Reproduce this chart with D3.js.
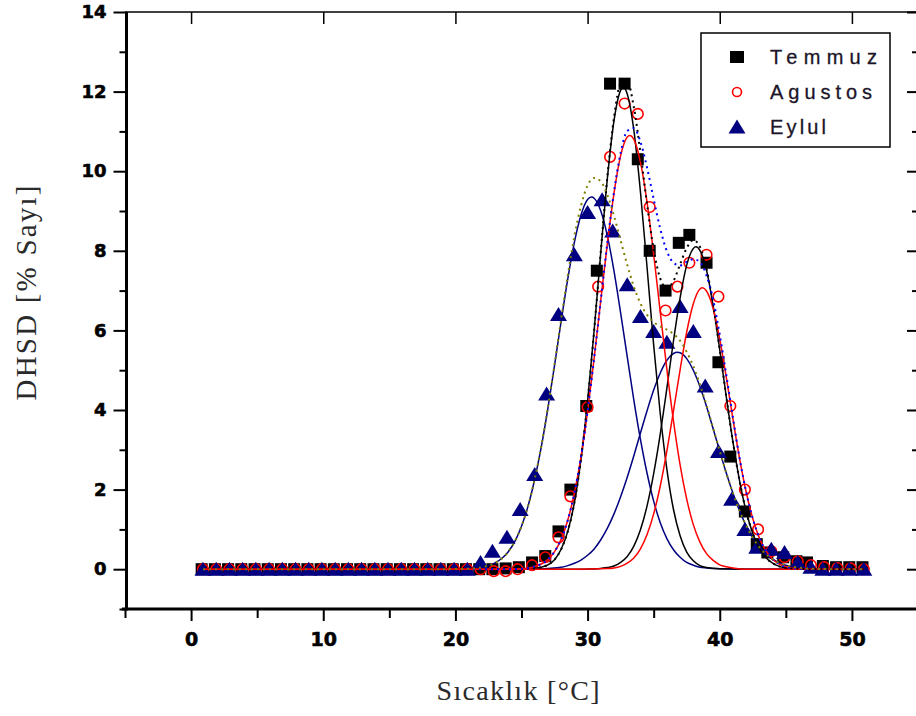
<!DOCTYPE html>
<html><head><meta charset="utf-8">
<script src="https://cdn.jsdelivr.net/npm/d3@7"></script>
<style>body{margin:0;background:#fff}svg{display:block}</style>
</head><body>
<svg id="chart" width="916" height="716"></svg>
<script>
// ---------------- data ----------------
const seriesNames = ["Temmuz", "Agustos", "Eylul"];
const xTicks = [0, 10, 20, 30, 40, 50];
const yTicks = [0, 2, 4, 6, 8, 10, 12, 14];

const temmuzX = [0.8,1.8,2.8,3.8,4.8,5.8,6.8,7.8,8.8,9.8,10.8,11.8,12.8,13.8,14.8,15.8,16.8,17.8,18.8,19.8,20.8,21.8,22.8,23.8,24.8,
  25.8,26.8,27.8,28.7,29.9,30.7,31.7,32.8,33.8,34.7,35.9,36.9,37.7,39.0,39.9,40.8,41.9,42.8,43.6,44.8,45.8,46.6,47.8,48.8,49.8,50.8];
const temmuzY = [0,0,0,0,0,0,0,0,0,0,0,0,0,0,0,0,0,0,0,0,0,0,0,0.02,0.05,
  0.17,0.33,0.95,2.0,4.1,7.5,12.2,12.2,10.3,8.0,7.0,8.2,8.4,7.7,5.2,2.83,1.45,0.63,0.42,0.3,0.2,0.17,0.08,0.05,0.05,0.05];

const agustosX = [0.9,1.9,2.9,3.9,4.9,5.9,6.9,7.9,8.9,9.9,10.9,11.9,12.9,13.9,14.9,15.9,16.9,17.9,18.9,19.9,20.9,21.9,
  22.9,23.8,24.7,25.8,26.8,27.8,28.7,30.0,30.8,31.7,32.8,33.8,34.7,35.9,36.8,37.7,39.0,39.9,40.8,41.9,42.9,43.9,44.9,45.9,46.9,47.9,48.9,49.9,50.9];
const agustosY = [0,0,0,0,0,0,0,0,0,0,0,0,0,0,0,0,0,0,0,0,0,0,
  -0.05,-0.05,0.0,0.1,0.3,0.8,1.83,4.07,7.1,10.36,11.7,11.44,9.1,6.5,7.1,7.7,7.9,6.85,4.1,2.0,1.0,0.45,0.3,0.2,0.1,0.05,0.03,0.02,0.0];

const eylulX = [0.9,1.9,2.9,3.9,4.9,5.9,6.9,7.9,8.9,9.9,10.9,11.9,12.9,13.9,14.9,15.9,16.9,17.9,18.9,19.9,20.9,
  21.9,22.8,23.9,24.9,26.0,26.9,27.8,29.0,30.0,31.1,31.9,33.0,34.0,35.0,36.0,37.0,38.0,38.9,39.9,40.9,41.9,42.8,43.9,44.9,45.9,46.9,47.8,48.8,49.8,50.9];
const eylulY = [0,0,0,0,0,0,0,0,0,0,0,0,0,0,0,0,0,0,0,0,0,
  0.17,0.45,0.8,1.5,2.38,4.4,6.4,7.9,8.96,9.28,8.5,7.15,6.35,5.97,5.7,6.6,5.97,4.6,2.96,1.76,1.0,0.55,0.5,0.42,0.17,0.05,0,0,0,0];

// fitted peak curves
const temmuzPeak1 = [[0.9,0],[24,0],[26,0.02],[26.5,0.05],[27,0.11],[27.5,0.24],[28,0.5],[28.5,0.95],[29,1.67],[29.5,2.76],[30,4.22],[30.5,6.01],[31,7.97],[31.5,9.83],[32,11.27],[32.5,12.03],[32.7,12.1],[33,11.94],[33.5,11.03],[34,9.48],[34.5,7.58],[35,5.63],[35.5,3.9],[36,2.51],[36.5,1.5],[37,0.84],[37.5,0.43],[38,0.21],[38.5,0.09],[39,0.04],[40,0.01],[42,0],[50.9,0]];
const temmuzPeak2 = [[0.9,0],[29,0],[30,0.003],[31,0.02],[31.5,0.04],[32,0.08],[32.5,0.17],[33,0.32],[33.5,0.58],[34,0.99],[34.5,1.59],[35,2.4],[35.5,3.4],[36,4.55],[36.5,5.74],[37,6.82],[37.5,7.64],[38,8.06],[38.2,8.1],[38.5,8.01],[39,7.51],[39.5,6.62],[40,5.51],[40.5,4.32],[41,3.19],[41.5,2.22],[42,1.45],[42.5,0.9],[43,0.52],[43.5,0.29],[44,0.15],[44.5,0.07],[45,0.03],[46,0.01],[47,0],[50.9,0]];
const temmuzSum = [[0.9,0],[24,0],[26,0.02],[26.5,0.05],[27,0.11],[27.5,0.24],[28,0.5],[28.5,0.95],[29,1.67],[29.5,2.76],[30,4.22],[30.5,6.01],[31,7.99],[31.5,9.87],[32,11.35],[32.5,12.2],[33,12.26],[33.5,11.61],[34,10.47],[34.5,9.17],[35,8.03],[35.5,7.3],[36,7.06],[36.5,7.24],[37,7.66],[37.5,8.07],[38,8.27],[38.5,8.1],[39,7.55],[39.5,6.64],[40,5.52],[40.5,4.32],[41,3.19],[41.5,2.22],[42,1.45],[42.5,0.9],[43,0.52],[43.5,0.29],[44,0.15],[44.5,0.07],[45,0.03],[46,0.01],[47,0],[50.9,0]];

const agustosPeak1 = [[0.9,0],[22,0],[25,0.01],[25.5,0.03],[26,0.07],[26.5,0.13],[27,0.24],[27.5,0.44],[28,0.75],[28.5,1.23],[29,1.91],[29.5,2.82],[30,3.97],[30.5,5.31],[31,6.76],[31.5,8.19],[32,9.45],[32.5,10.39],[33,10.86],[33.2,10.9],[33.5,10.8],[34,10.23],[34.5,9.22],[35,7.91],[35.5,6.46],[36,5.02],[36.5,3.72],[37,2.62],[37.5,1.76],[38,1.12],[38.5,0.68],[39,0.39],[39.5,0.22],[40,0.11],[40.5,0.06],[41,0.03],[42,0],[50.9,0]];
const agustosPeak2 = [[0.9,0],[29,0],[31.5,0.015],[32,0.03],[32.5,0.07],[33,0.15],[33.5,0.28],[34,0.51],[34.5,0.87],[35,1.39],[35.5,2.09],[36,2.97],[36.5,3.98],[37,5.01],[37.5,5.96],[38,6.67],[38.5,7.04],[38.7,7.07],[39,6.99],[39.5,6.55],[40,5.78],[40.5,4.81],[41,3.77],[41.5,2.78],[42,1.94],[42.5,1.27],[43,0.78],[43.5,0.46],[44,0.25],[44.5,0.13],[45,0.06],[45.5,0.03],[46,0.01],[47,0],[50.9,0]];
const agustosSum = [[0.9,0],[24,0],[25,0.01],[26,0.07],[27,0.24],[27.5,0.44],[28,0.75],[28.5,1.23],[29,1.91],[29.5,2.82],[30,3.97],[30.5,5.31],[31,6.76],[31.5,8.21],[32,9.48],[32.5,10.46],[33,11.01],[33.5,11.08],[34,10.74],[34.5,10.09],[35,9.3],[35.5,8.55],[36,7.99],[36.5,7.7],[37,7.63],[37.5,7.72],[38,7.79],[38.5,7.72],[39,7.38],[39.5,6.77],[40,5.89],[40.5,4.87],[41,3.8],[41.5,2.79],[42,1.94],[42.5,1.27],[43,0.78],[43.5,0.46],[44,0.25],[44.5,0.13],[45,0.06],[46,0.01],[47,0],[50.9,0]];

const eylulPeak1 = [[0.9,0],[18,0],[20,0.003],[21,0.01],[22,0.05],[22.5,0.09],[23,0.16],[23.5,0.27],[24,0.44],[24.5,0.7],[25,1.08],[25.5,1.59],[26,2.26],[26.5,3.08],[27,4.05],[27.5,5.12],[28,6.23],[28.5,7.29],[29,8.21],[29.5,8.9],[30,9.29],[30.3,9.35],[30.5,9.32],[31,9.0],[31.5,8.37],[32,7.49],[32.5,6.44],[33,5.34],[33.5,4.25],[34,3.26],[34.5,2.41],[35,1.71],[35.5,1.17],[36,0.77],[36.5,0.49],[37,0.3],[37.5,0.17],[38,0.1],[38.5,0.05],[39,0.03],[40,0.01],[42,0],[50.9,0]];
const eylulPeak2 = [[0.9,0],[22,0],[26,0.005],[27,0.02],[28,0.05],[28.5,0.09],[29,0.15],[29.5,0.23],[30,0.35],[30.5,0.51],[31,0.74],[31.5,1.03],[32,1.39],[32.5,1.82],[33,2.31],[33.5,2.85],[34,3.42],[34.5,3.98],[35,4.5],[35.5,4.93],[36,5.25],[36.5,5.42],[36.8,5.45],[37,5.44],[37.5,5.29],[38,5.0],[38.5,4.59],[39,4.09],[39.5,3.53],[40,2.96],[40.5,2.41],[41,1.91],[41.5,1.47],[42,1.09],[42.5,0.79],[43,0.55],[43.5,0.38],[44,0.25],[44.5,0.16],[45,0.1],[45.5,0.06],[46,0.04],[47,0.01],[49,0],[50.9,0]];
const eylulSum = [[0.9,0],[18,0],[21,0.01],[22,0.05],[23,0.16],[24,0.44],[25,1.08],[25.5,1.59],[26,2.27],[26.5,3.09],[27,4.07],[27.5,5.15],[28,6.28],[28.5,7.38],[29,8.36],[29.5,9.13],[30,9.64],[30.5,9.83],[31,9.74],[31.5,9.4],[32,8.88],[32.5,8.26],[33,7.65],[33.5,7.1],[34,6.68],[34.5,6.39],[35,6.21],[35.5,6.1],[36,6.02],[36.5,5.91],[37,5.74],[37.5,5.46],[38,5.1],[38.5,4.64],[39,4.12],[39.5,3.54],[40,2.97],[40.5,2.41],[41,1.91],[41.5,1.47],[42,1.09],[42.5,0.79],[43,0.55],[43.5,0.38],[44,0.25],[44.5,0.16],[45,0.1],[46,0.04],[47,0.01],[49,0],[50.9,0]];

// ---------------- drawing ----------------
const svg = d3.select("#chart");
const x = d3.scaleLinear().domain([-5, 55]).range([125, 918]);
const y = d3.scaleLinear().domain([-1, 14]).range([609, 12]);

const BLACK = "#000000", RED = "#ff0000", NAVY = "#000080", BLUE = "#0000ff", OLIVE = "#808000";
const tickFont = "'DejaVu Sans', sans-serif";

function styleAxis(g, w) {
  g.select(".domain").remove();
  g.selectAll(".tick line").attr("stroke", "#000").attr("stroke-width", w);
}
// left axis
const gL = svg.append("g").attr("transform", `translate(${x(-5) + 1.5},0)`);
gL.call(d3.axisLeft(y).tickValues(yTicks).tickSize(13).tickPadding(7).tickFormat(d3.format("d")));
styleAxis(gL, 2);
gL.selectAll("text").attr("font-family", tickFont).attr("font-weight", "bold").attr("font-size", 18)
  .attr("fill", "#000").attr("stroke", "#000").attr("stroke-width", 0.6);
const gLm = svg.append("g").attr("transform", `translate(${x(-5) + 1.5},0)`);
gLm.call(d3.axisLeft(y).tickValues([-1,1,3,5,7,9,11,13]).tickSize(7).tickFormat(""));
styleAxis(gLm, 2);

// right axis (just beyond frame, inward ticks)
const gR = svg.append("g").attr("transform", `translate(${x(55)},0)`);
gR.call(d3.axisRight(y).tickValues(yTicks).tickSize(-11).tickFormat(""));
styleAxis(gR, 2);
const gRm = svg.append("g").attr("transform", `translate(${x(55)},0)`);
gRm.call(d3.axisRight(y).tickValues([1,3,5,7,9,11,13]).tickSize(-6).tickFormat(""));
styleAxis(gRm, 2);

// bottom axis
const gB = svg.append("g").attr("transform", `translate(0,${y(-1)})`);
gB.call(d3.axisBottom(x).tickValues(xTicks).tickSize(12).tickPadding(12).tickFormat(d3.format("d")));
styleAxis(gB, 2);
gB.selectAll("text").attr("font-family", tickFont).attr("font-weight", "bold").attr("font-size", 19)
  .attr("fill", "#000").attr("stroke", "#000").attr("stroke-width", 0.6);
const gBm = svg.append("g").attr("transform", `translate(0,${y(-1)})`);
gBm.call(d3.axisBottom(x).tickValues([-5,5,15,25,35,45]).tickSize(9).tickFormat(""));
styleAxis(gBm, 2);

// top axis (inward ticks)
const gT = svg.append("g").attr("transform", `translate(0,${y(14)})`);
gT.call(d3.axisTop(x).tickValues(xTicks).tickSize(-12).tickFormat(""));
styleAxis(gT, 1.5);

// frame lines
svg.append("line").attr("x1", x(-5) + 1.5).attr("x2", x(-5) + 1.5).attr("y1", y(14)).attr("y2", y(-1) + 1.5)
  .attr("stroke", "#000").attr("stroke-width", 3);
svg.append("line").attr("x1", x(-5) - 3).attr("x2", x(55)).attr("y1", y(-1)).attr("y2", y(-1))
  .attr("stroke", "#000").attr("stroke-width", 3);
svg.append("line").attr("x1", x(-5)).attr("x2", x(55)).attr("y1", y(14)).attr("y2", y(14))
  .attr("stroke", "#000").attr("stroke-width", 1.5);
svg.append("line").attr("x1", x(55)).attr("x2", x(55)).attr("y1", y(14)).attr("y2", y(-1))
  .attr("stroke", "#000").attr("stroke-width", 1.5);

// axis titles
svg.append("text").attr("x", 518).attr("y", 700).attr("text-anchor", "middle")
  .attr("font-family", "'Liberation Serif', 'Times New Roman', serif").attr("font-size", 28)
  .attr("fill", "#2a2a2a").attr("textLength", 163).attr("lengthAdjust", "spacing")
  .text("Sıcaklık [°C]");
svg.append("text").attr("transform", "translate(36,293) rotate(-90)").attr("text-anchor", "middle")
  .attr("font-family", "'Liberation Serif', 'Times New Roman', serif").attr("font-size", 29)
  .attr("fill", "#2a2a2a").attr("textLength", 215).attr("lengthAdjust", "spacing")
  .text("DHSD [% Sayı]");

// markers
const plot = svg.append("g");
const sq = 12;
const triPath = "M0,-7.5L8.5,6.5L-8.5,6.5Z";
plot.append("g").selectAll("rect").data(d3.zip(temmuzX, temmuzY)).join("rect")
  .attr("x", d => x(d[0]) - sq / 2).attr("y", d => y(d[1]) - sq / 2)
  .attr("width", sq).attr("height", sq).attr("fill", BLACK);
plot.append("g").selectAll("circle").data(d3.zip(agustosX, agustosY)).join("circle")
  .attr("cx", d => x(d[0])).attr("cy", d => y(d[1])).attr("r", 5.3)
  .attr("fill", "none").attr("stroke", RED).attr("stroke-width", 1.6);
plot.append("g").selectAll("path").data(d3.zip(eylulX, eylulY)).join("path")
  .attr("d", triPath).attr("transform", d => `translate(${x(d[0])},${y(d[1])})`).attr("fill", NAVY);

// fit curves
const line = d3.line().x(d => x(d[0])).y(d => y(d[1])).curve(d3.curveMonotoneX);
function drawCurve(data, color, dash, w) {
  plot.append("path").attr("d", line(data)).attr("fill", "none").attr("stroke", color)
    .attr("stroke-width", w).attr("stroke-dasharray", dash || null);
}
drawCurve(eylulPeak1, NAVY, null, 1.5);
drawCurve(eylulPeak2, NAVY, null, 1.5);
drawCurve(temmuzPeak1, BLACK, null, 1.5);
drawCurve(temmuzPeak2, BLACK, null, 1.5);
drawCurve(agustosPeak1, RED, null, 1.5);
drawCurve(agustosPeak2, RED, null, 1.5);
drawCurve(temmuzSum, BLACK, "2,4", 2);
drawCurve(agustosSum, BLUE, "2,4", 2);
drawCurve(eylulSum, OLIVE, "2,4", 2);

// legend
const lg = svg.append("g");
lg.append("rect").attr("x", 701).attr("y", 33).attr("width", 189).attr("height", 114)
  .attr("fill", "#fff").attr("stroke", "#000").attr("stroke-width", 1.5);
const legendY = [57, 92, 127];
const legendW = [107, 102, 56];
lg.append("rect").attr("x", 737 - 7).attr("y", legendY[0] - 6).attr("width", 14).attr("height", 12).attr("fill", BLACK);
lg.append("circle").attr("cx", 737).attr("cy", legendY[1]).attr("r", 4.5).attr("fill", "none").attr("stroke", RED).attr("stroke-width", 1.6);
lg.append("path").attr("d", triPath).attr("transform", `translate(737,${legendY[2]})`).attr("fill", NAVY);
seriesNames.forEach((n, i) => {
  lg.append("text").attr("x", 770).attr("y", legendY[i] + 7)
    .attr("font-family", "'Liberation Sans', Arial, sans-serif").attr("font-size", 20)
    .attr("fill", "#1c1428").attr("stroke", "#1c1428").attr("stroke-width", 0.3)
    .attr("textLength", legendW[i]).attr("lengthAdjust", "spacing").text(n);
});
</script>
</body></html>
